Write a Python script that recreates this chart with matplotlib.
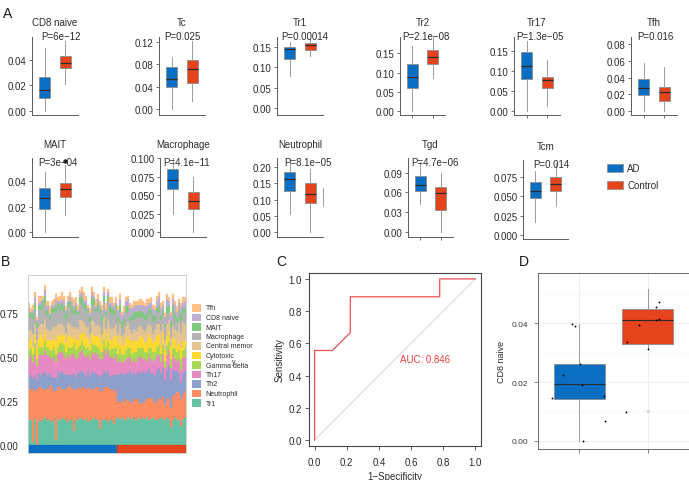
import numpy as np
import matplotlib
matplotlib.use('Agg')
import matplotlib.pyplot as plt
from matplotlib.patches import Rectangle
from matplotlib.ticker import MultipleLocator

plt.rcParams['font.family'] = ['Liberation Sans', 'DejaVu Sans']

# ---------------- data ----------------
blue = '#0a6fc2'
red = '#e5431b'
groups = ['AD', 'Control']

cell_types = ['CD8 naive', 'Tc', 'Tr1', 'Tr2', 'Tr17', 'Tfh',
              'MAIT', 'Macrophage', 'Neutrophil', 'Tgd', 'Tcm']
p_labels = ['P=6e\u221212', 'P=0.025', 'P=0.00014', 'P=2.1e\u221208', 'P=1.3e\u221205',
            'P=0.016', 'P=3e\u221204', 'P=4.1e\u221211', 'P=8.1e\u221205',
            'P=4.7e\u221206', 'P=0.014']
# (whisker low, q1, median, q3, whisker high)
ad_box = [(0.0, 0.0103, 0.0167, 0.0263, 0.0488),
          (0.0, 0.0393, 0.0533, 0.0745, 0.094),
          (0.078, 0.120, 0.144, 0.150, 0.161),
          (0.0, 0.060, 0.088, 0.122, 0.168),
          (0.0, 0.080, 0.111, 0.146, 0.175),
          (0.0, 0.019, 0.0273, 0.0384, 0.0574),
          (0.0, 0.0183, 0.0266, 0.0343, 0.047),
          (0.0246, 0.0583, 0.0704, 0.0852, 0.101),
          (0.056, 0.125, 0.162, 0.183, 0.223),
          (0.0428, 0.0624, 0.071, 0.0846, 0.106),
          (0.0163, 0.0476, 0.057, 0.0686, 0.0828)]
ctrl_box = [(0.0211, 0.0333, 0.0374, 0.0431, 0.0547),
            (0.0138, 0.046, 0.0709, 0.0878, 0.123),
            (0.128, 0.143, 0.154, 0.159, 0.170),
            (0.086, 0.121, 0.140, 0.159, 0.191),
            (0.014, 0.057, 0.078, 0.084, 0.127),
            (0.0, 0.0126, 0.0226, 0.0293, 0.0523),
            (0.0136, 0.0274, 0.0336, 0.038, 0.052),
            (0.0, 0.0314, 0.0425, 0.0538, 0.074),
            (0.0, 0.089, 0.117, 0.149, 0.193),
            (0.001, 0.0341, 0.0589, 0.068, 0.0896),
            (0.0377, 0.0562, 0.0656, 0.0742, 0.092)]
ctrl_outliers = [[], [], [], [], [], [], [0.0555], [], [], [], []]
y_ticks = [[0, 0.02, 0.04], [0, 0.04, 0.08, 0.12], [0, 0.05, 0.10, 0.15],
           [0, 0.05, 0.10, 0.15], [0, 0.05, 0.10, 0.15], [0, 0.02, 0.04, 0.06, 0.08],
           [0, 0.02, 0.04], [0, 0.025, 0.05, 0.075, 0.1], [0, 0.05, 0.1, 0.15, 0.2],
           [0, 0.03, 0.06, 0.09], [0, 0.025, 0.05, 0.075]]
tick_fmt = ['%.2f'] * 7 + ['%.3f', '%.2f', '%.2f', '%.3f']

# panel B: fractions per sample (percent), 44 AD then 34 Control
n_ad, n_ctrl = 44, 34
layer_names = ['Tr1', 'Neutrophil', 'Th2', 'Th17', 'Gamma delta', 'Cytotoxic',
               'Central memor', 'Macrophage', 'MAIT', 'CD8 naive', 'Tfh']
layer_colors = ['#66c2a5', '#fc8d62', '#8da0cb', '#e78ac3', '#a6d854', '#ffd92f',
                '#e5c494', '#b3b3b3', '#7fc97f', '#beaed4', '#fdc086']
tr1 = [15, 14, 2, 15, 0, 14, 13, 15, 16, 14, 15, 13, 14, 3, 15, 14, 16, 15, 14, 13, 15, 14,
       8, 15, 14, 16, 15, 14, 15, 13, 14, 15, 16, 14, 15, 9, 14, 15, 14, 13, 15, 14, 12, 15,
       16, 15, 16, 15, 14, 16, 15, 16, 15, 14, 16, 15, 16, 15, 16, 14, 15, 16, 15, 14, 15, 16,
       15, 14, 16, 15, 10, 14, 16, 15, 14, 11, 15, 16]
neutrophil = [17, 18, 30, 16, 32, 19, 20, 17, 16, 18, 19, 20, 17, 28, 18, 19, 16, 17, 18, 20,
              19, 18, 24, 17, 19, 16, 18, 19, 17, 20, 18, 17, 16, 19, 18, 22, 17, 18, 19, 20,
              17, 18, 19, 17,
              9, 10, 8, 11, 12, 9, 10, 8, 11, 12, 10, 9, 8, 10, 11, 13, 12, 10, 9, 11, 12, 10,
              13, 9, 10, 12, 11, 14, 13, 15, 16, 15, 14, 15]
th2 = [7, 8, 6, 9, 5, 8, 7, 9, 10, 8, 7, 6, 8, 7, 9, 8, 10, 9, 8, 7, 6, 8, 9, 7, 8, 10, 9, 8,
       7, 9, 8, 10, 9, 8, 7, 8, 9, 10, 8, 9, 7, 8, 9, 8,
       15, 16, 17, 14, 15, 16, 18, 17, 15, 14, 16, 17, 18, 16, 15, 17, 14, 15, 16, 18, 17, 15,
       16, 14, 17, 18, 16, 15, 13, 12, 11, 10, 12, 11]
th17 = [10, 11, 9, 12, 8, 10, 11, 10, 12, 11, 9, 10, 11, 9, 10, 12, 11, 10, 9, 11, 10, 12,
        11, 10, 9, 11, 12, 10, 11, 10, 9, 11, 10, 12, 11, 10, 9, 11, 10, 12, 11, 10, 9, 11,
        7, 8, 6, 7, 8, 9, 7, 6, 8, 7, 8, 9, 7, 8, 6, 7, 8, 7, 9, 8, 7, 6, 8, 7, 8, 9, 7, 8,
        7, 6, 8, 7, 9, 8]
gamma_delta = [5, 4, 5, 6, 4, 5, 5, 4, 6, 5, 4, 5, 6, 5, 4, 5, 5, 6, 4, 5, 5, 4, 6, 5, 5, 4,
               5, 6, 5, 4, 5, 5, 6, 4, 5, 5, 4, 6, 5, 5, 4, 5, 6, 5,
               5, 6, 5, 4, 5, 6, 5, 5, 4, 6, 5, 5, 6, 4, 5, 5, 6, 5, 4, 5, 6, 5, 5, 4, 6, 5,
               5, 4, 6, 5, 5, 6, 4, 5]
cytotoxic = [5, 6, 4, 5, 6, 5, 7, 6, 5, 4, 6, 5, 5, 7, 6, 5, 4, 6, 5, 6, 7, 5, 4, 6, 5, 6, 5,
             7, 6, 5, 4, 6, 5, 5, 6, 7, 5, 6, 4, 5, 6, 5, 7, 6,
             6, 7, 5, 6, 7, 6, 5, 7, 6, 6, 5, 7, 6, 5, 6, 7, 6, 5, 7, 6, 6, 5, 7, 6, 5, 6, 7,
             6, 5, 4, 5, 6, 5, 4]
central_memory = [6, 5, 7, 6, 5, 7, 6, 8, 7, 6, 5, 7, 6, 8, 7, 6, 7, 5, 6, 8, 7, 6, 5, 7, 6,
                  8, 7, 6, 7, 6, 5, 7, 8, 6, 7, 6, 5, 7, 6, 8, 7, 6, 5, 7,
                  6, 7, 5, 6, 7, 8, 6, 5, 7, 6, 7, 6, 5, 7, 8, 6, 7, 5, 6, 7, 6, 8, 5, 6, 7,
                  6, 5, 7, 6, 8, 10, 9, 11, 10]
macrophage = [8, 7, 9, 8, 7, 9, 8, 10, 9, 8, 7, 9, 8, 9, 10, 8, 9, 7, 8, 9, 10, 8, 7, 9, 8,
              10, 9, 8, 9, 8, 7, 9, 10, 8, 9, 8, 7, 9, 8, 10, 9, 8, 7, 9,
              6, 7, 5, 6, 7, 6, 5, 7, 6, 8, 6, 5, 7, 6, 5, 7, 6, 7, 5, 6, 7, 6, 5, 7, 6, 5, 6,
              7, 6, 5, 6, 7, 5, 6]
mait = [3, 2, 3, 4, 3, 2, 3, 3, 4, 3, 2, 3, 3, 4, 2, 3, 3, 4, 3, 2, 3, 4, 3, 3, 2, 3, 4, 3, 3,
        2, 3, 4, 3, 2, 3, 3, 4, 3, 2, 3, 3, 4, 3, 2,
        3, 4, 3, 3, 4, 3, 2, 3, 4, 3, 3, 4, 3, 3, 4, 2, 3, 4, 3, 3, 4, 3, 3, 2, 4, 3, 3, 4, 3,
        3, 2, 4, 3, 3]
cd8_naive = [2, 1, 2, 3, 1, 2, 2, 1, 3, 2, 1, 2, 2, 3, 1, 2, 2, 3, 2, 1, 2, 3, 2, 2, 1, 2, 3,
             2, 2, 1, 2, 3, 2, 1, 2, 2, 3, 2, 1, 2, 2, 3, 2, 1,
             4, 3, 4, 4, 3, 4, 5, 4, 3, 4, 4, 3, 4, 5, 4, 3, 4, 4, 3, 4, 5, 4, 3, 4, 4, 3, 4,
             4, 5, 3, 4, 4, 3, 4]
tfh = [3, 2, 3, 3, 2, 4, 3, 2, 3, 3, 4, 2, 3, 3, 2, 3, 4, 3, 2, 3, 3, 2, 4, 3, 3, 2, 3, 4, 3,
       2, 3, 3, 2, 4, 3, 2, 3, 3, 4, 2, 3, 3, 2, 3,
       2, 3, 2, 3, 2, 2, 3, 2, 3, 2, 2, 3, 2, 2, 3, 2, 3, 2, 2, 3, 2, 3, 2, 2, 3, 2, 2, 3, 2,
       3, 2, 2, 3, 2]
layers = [tr1, neutrophil, th2, th17, gamma_delta, cytotoxic, central_memory,
          macrophage, mait, cd8_naive, tfh]

# panel C: ROC curve
fpr = [0, 0, 0.111, 0.222, 0.222, 0.778, 0.778, 1.0]
tpr = [0, 0.556, 0.556, 0.667, 0.889, 0.889, 1.0, 1.0]
auc = 0.846

# panel D: CD8 naive in validation set
d_ad_box = (0.0, 0.0142, 0.0192, 0.0262, 0.0399)
d_ctrl_box = (0.0314, 0.0331, 0.0411, 0.045, 0.0518)
d_ctrl_outliers = [0.0102]
d_ad_x = [0.90, 0.94, 1.01, 0.76, 1.04, 0.60, 1.36, 1.05, 1.38]
d_ad_y = [0.0399, 0.0391, 0.0261, 0.0223, 0.0189, 0.0146, 0.0154, 0.0, 0.0068]
d_ctrl_x = [2.165, 2.12, 2.165, 2.12, 1.87, 1.70, 2.0, 1.68]
d_ctrl_y = [0.0473, 0.0456, 0.0414, 0.0410, 0.0393, 0.0337, 0.0314, 0.0099]

# ---------------- figure ----------------
W, H = 689, 481
fig = plt.figure(figsize=(W / 100, H / 100), dpi=100)


def add_ax(l, t, r, b):
    return fig.add_axes([l / W, 1 - b / H, (r - l) / W, (b - t) / H])


def box_stats(v, fliers=()):
    return dict(whislo=v[0], q1=v[1], med=v[2], q3=v[3], whishi=v[4], fliers=list(fliers))


# panel A layout: left, top, right, bottom (pixels), ylim, P label x (axes fraction)
a_pos = [(32, 38, 78, 116), (159, 38, 205, 116), (277, 38, 323, 116),
         (400, 38, 445, 116), (514, 38, 560, 116), (631, 38, 677, 116),
         (32, 159, 78, 238), (160, 159, 206, 238), (277, 159, 323, 238),
         (408, 159, 453, 238), (523, 161, 568, 240)]
a_ylim = [(-0.0029, 0.0576), (-0.0115, 0.1296), (-0.016, 0.174), (-0.0096, 0.192),
          (-0.0092, 0.184), (-0.0044, 0.0883), (-0.0036, 0.0576), (-0.0063, 0.100),
          (-0.0143, 0.2265), (-0.0071, 0.112), (-0.0051, 0.0965)]
p_x = [0.62, 0.51, 0.61, 0.58, 0.56, 0.53, 0.56, 0.58, 0.68, 0.59, 0.62]
with_xticks = [3, 4, 5, 9]

for i, name in enumerate(cell_types):
    l, t, r, b = a_pos[i]
    ax = add_ax(l, t, r, b)
    bp = ax.bxp([box_stats(ad_box[i]), box_stats(ctrl_box[i], ctrl_outliers[i])],
                positions=[1, 2], widths=0.52, patch_artist=True, showcaps=False,
                boxprops=dict(edgecolor='#8c8c8c', linewidth=0.6),
                medianprops=dict(color='#2b2b2b', linewidth=0.9),
                whiskerprops=dict(color='#9a9a9a', linewidth=0.7),
                flierprops=dict(marker='o', markersize=2.2, markerfacecolor='#222222',
                                markeredgecolor='#222222'))
    for patch, c in zip(bp['boxes'], [blue, red]):
        patch.set_facecolor(c)
    ax.set_xlim(0.4, 2.6)
    ax.set_ylim(*a_ylim[i])
    ax.set_yticks(y_ticks[i])
    ax.set_yticklabels([tick_fmt[i] % v for v in y_ticks[i]])
    ax.set_xticks([1, 2] if i in with_xticks else [])
    ax.set_xticklabels([])
    for s in ['top', 'right']:
        ax.spines[s].set_visible(False)
    for s in ['left', 'bottom']:
        ax.spines[s].set_color('#5a5a5a')
        ax.spines[s].set_linewidth(0.7)
    ax.tick_params(labelsize=7, length=2.2, width=0.6, color='#5a5a5a',
                   labelcolor='#2b2b2b', pad=1.5)
    h = b - t
    title_y = 1 + (15 if i < 6 else 13.5) / h
    ax.text(0.5, title_y, name, transform=ax.transAxes, ha='center', va='center',
            fontsize=7, color='#2b2b2b')
    py = 1 + 1.3 / h if i < 6 else 1 - 4 / h
    ax.text(p_x[i], py, p_labels[i], transform=ax.transAxes, ha='center', va='center',
            fontsize=7, color='#2b2b2b', clip_on=False)
    if name == 'Neutrophil':
        ax.plot([2.62, 2.62], [0.081, 0.135], color='#9a9a9a', lw=0.7, clip_on=False)

# legend A
for k, (g, c) in enumerate(zip(groups, [blue, red])):
    y = 165 + k * 17
    fig.add_artist(Rectangle((607 / W, 1 - (y + 8) / H), 16 / W, 8 / H,
                             transform=fig.transFigure, facecolor=c,
                             edgecolor='#8c8c8c', linewidth=0.5))
    fig.text(627 / W, 1 - (y + 4) / H, g, fontsize=7, va='center', color='#2b2b2b')

# ---------------- panel B ----------------
axb = add_ax(28.3, 276, 186, 454.3)
n = n_ad + n_ctrl
x = np.arange(n)
bottom = np.zeros(n)
for vals, c in zip(layers, layer_colors):
    v = np.array(vals) / 100
    axb.bar(x, v, bottom=bottom, width=1.0, color=c, edgecolor=c, linewidth=0.2)
    bottom += v
strip_colors = [blue] * n_ad + [red] * n_ctrl
axb.bar(x, 0.047, bottom=-0.047, width=1.0, color=strip_colors, edgecolor=strip_colors,
        linewidth=0.2)
axb.set_xlim(-0.5, n - 0.5)
axb.set_ylim(-0.047, 0.968)
axb.set_xticks([])
axb.set_yticks([0, 0.25, 0.5, 0.75])
axb.set_yticklabels(['0.00', '0.25', '0.50', '0.75'])
axb.tick_params(labelsize=7, length=0, pad=7, labelcolor='#2b2b2b')
for s in axb.spines.values():
    s.set_color('#c8c8c8')
    s.set_linewidth(0.6)

# legend B (top = last layer)
for k, idx in enumerate(range(len(layer_names) - 1, -1, -1)):
    yc = 309 + k * 9.5
    fig.add_artist(Rectangle((192 / W, 1 - (yc + 3.8) / H), 9.3 / W, 7.6 / H,
                             transform=fig.transFigure, facecolor=layer_colors[idx],
                             edgecolor='none'))
    fig.text(205.5 / W, 1 - yc / H, layer_names[idx], fontsize=5, va='center',
             color='#2b2b2b')
fig.text(232 / W, 1 - 362 / H, 'y', fontsize=5, va='center', color='#2b2b2b')

# ---------------- panel C ----------------
axc = add_ax(309, 274.3, 481, 446.7)
axc.plot([0, 1], [0, 1], color='#cfcfcf', lw=0.6)
axc.plot(fpr, tpr, color='#ee5050', lw=0.9)
axc.text(0.69, 0.5, 'AUC: %.3f' % auc, color='#f03c3c', fontsize=7, ha='center',
         va='center')
axc.set_xlim(-0.035, 1.035)
axc.set_ylim(-0.035, 1.035)
ticks_c = [0, 0.2, 0.4, 0.6, 0.8, 1.0]
axc.set_xticks(ticks_c)
axc.set_yticks(ticks_c)
axc.set_xticklabels(['%.1f' % v for v in ticks_c])
axc.set_yticklabels(['%.1f' % v for v in ticks_c])
axc.tick_params(axis='x', labelsize=7, length=3, width=0.6, pad=5, color='#444444',
                labelcolor='#2b2b2b')
axc.tick_params(axis='y', labelsize=7, length=3, width=0.6, pad=2, color='#444444',
                labelcolor='#2b2b2b')
for s in axc.spines.values():
    s.set_color('#444444')
    s.set_linewidth(0.8)
axc.set_xlabel('1\u2212Specificity', fontsize=7, color='#2b2b2b', labelpad=3)
axc.set_ylabel('Sensitivity', fontsize=7, color='#2b2b2b', labelpad=3)

# ---------------- panel D ----------------
axd = add_ax(538.3, 274, 688.5, 450)
axd.set_axisbelow(True)
bpd = axd.bxp([box_stats(d_ad_box), box_stats(d_ctrl_box, d_ctrl_outliers)],
              positions=[1, 2], widths=0.75, patch_artist=True, showcaps=False,
              boxprops=dict(edgecolor='#8c8c8c', linewidth=0.6),
              medianprops=dict(color='#2b2b2b', linewidth=0.8),
              whiskerprops=dict(color='#8c8c8c', linewidth=0.6),
              flierprops=dict(marker='o', markersize=1.6, markerfacecolor='#d8d8d8',
                              markeredgecolor='#d8d8d8'))
for patch, c in zip(bpd['boxes'], [blue, red]):
    patch.set_facecolor(c)
axd.scatter(d_ad_x, d_ad_y, s=1.8, color='black', zorder=4, linewidths=0)
axd.scatter(d_ctrl_x, d_ctrl_y, s=1.8, color='black', zorder=4, linewidths=0)
axd.set_xlim(0.4, 2.6)
axd.set_ylim(-0.0028, 0.0571)
axd.set_xticks([1, 2])
axd.set_xticklabels([])
axd.set_yticks([0, 0.02, 0.04])
axd.set_yticklabels(['0.00', '0.02', '0.04'])
axd.yaxis.set_minor_locator(MultipleLocator(0.01))
axd.tick_params(which='minor', length=0)
axd.tick_params(which='major', labelsize=6, length=3, width=0.5, pad=4,
                color='#555555', labelcolor='#3a3a3a')
axd.grid(which='major', color='#ececec', lw=0.6)
axd.grid(which='minor', axis='y', color='#f4f4f4', lw=0.4)
for s in axd.spines.values():
    s.set_color('#555555')
    s.set_linewidth(0.6)
axd.set_ylabel('CD8 naive', fontsize=6.5, color='#2b2b2b', labelpad=4)

# panel letters
for letter, (px, py) in zip('ABCD', [(7.5, 13.5), (5, 262), (281, 262), (524, 262)]):
    fig.text(px / W, 1 - py / H, letter, fontsize=10, ha='center', va='center',
             color='#1a1a1a')

fig.savefig('out.png', dpi=100)
